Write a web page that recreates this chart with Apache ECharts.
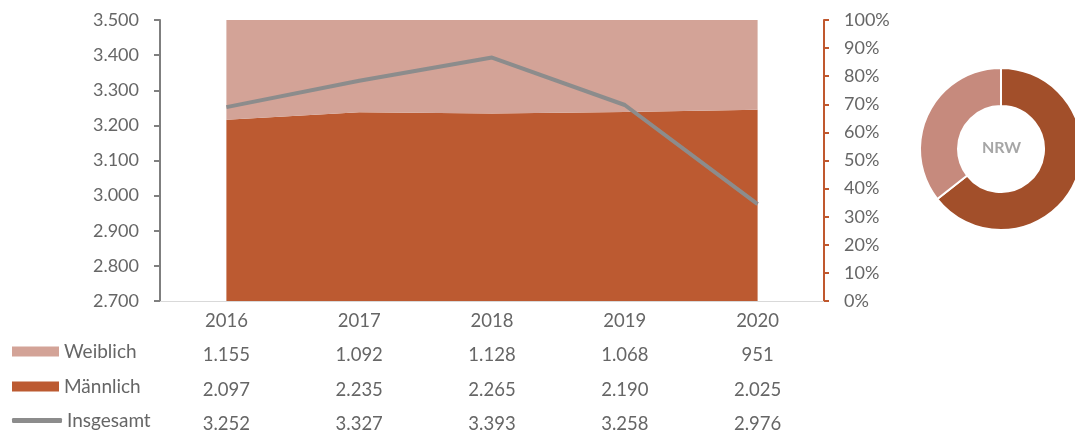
<!DOCTYPE html>
<html>
<head>
<meta charset="utf-8">
<style>
  html, body { margin: 0; padding: 0; background: #fff; }
  #chart { width: 1075px; height: 434px; }
</style>
<script src="https://cdn.jsdelivr.net/npm/echarts@6/dist/echarts.min.js"></script>
</head>
<body>
<div id="chart"></div>
<script>
// Students per year, split by gender
const years = ['2016', '2017', '2018', '2019', '2020'];
const weiblich = [1155, 1092, 1128, 1068, 951];
const maennlich = [2097, 2235, 2265, 2190, 2025];
const insgesamt = [3252, 3327, 3393, 3258, 2976];

// NRW gender shares (percent) for the ring
const nrwNames = ['Männlich (NRW)', 'Weiblich (NRW)'];
const nrwShares = [64.4, 35.6];

// Axis ranges
const leftMin = 2700, leftMax = 3500, leftStep = 100;
const rightMin = 0, rightMax = 1, rightStep = 0.1;

const FONT = 'Lato, "Open Sans", sans-serif';
const TXT = '#666666';
const C_W = '#d3a397';
const C_M = '#bc5a31';
const C_LINE = '#8c8c8c';
const C_AXIS_R = '#c0582e';

const fmtDE = n => String(n).replace(/\B(?=(\d{3})+(?!\d))/g, '.');

const shareM = maennlich.map((m, i) => m / insgesamt[i]);
const shareW = weiblich.map((w, i) => w / insgesamt[i]);

// Category axes: the main one plus three table rows under it
function tableAxis(offset, values) {
  return {
    type: 'category', data: years, position: 'bottom', offset: offset,
    axisLine: { show: false }, axisTick: { show: false }, splitLine: { show: false },
    axisLabel: {
      margin: 11, color: TXT, fontSize: 18.5, fontFamily: FONT,
      formatter: (v, i) => fmtDE(values[i])
    }
  };
}

function rowLegend(name, top, icon, h, w) {
  return {
    data: [name], left: 12, top: top, orient: 'horizontal',
    icon: icon, itemWidth: w, itemHeight: h, itemGap: 0,
    selectedMode: false, padding: 0,
    textStyle: { color: TXT, fontSize: 19, fontFamily: FONT, padding: [0, 0, 0, 0] }
  };
}

const chart = echarts.init(document.getElementById('chart'), null, { renderer: 'canvas' });
chart.setOption({
  animation: false,
  backgroundColor: '#fff',
  grid: { left: 160, right: 251, top: 20, bottom: 132, containLabel: false },
  legend: [
    rowLegend('Weiblich', 342, 'rect', 10, 47),
    rowLegend('Männlich', 377, 'rect', 10, 47),
    rowLegend('Insgesamt', 411, 'roundRect', 5, 50)
  ],
  xAxis: [
    {
      type: 'category', data: years, boundaryGap: true,
      axisLine: { show: true, lineStyle: { color: '#d9d9d9', width: 1 } },
      axisTick: { show: false },
      axisLabel: { margin: 11, color: TXT, fontSize: 18.5, fontFamily: FONT }
    },
    tableAxis(34, weiblich),
    tableAxis(69, maennlich),
    tableAxis(103, insgesamt)
  ],
  yAxis: [
    {
      type: 'value', min: leftMin, max: leftMax, interval: leftStep, position: 'left',
      splitLine: { show: false },
      axisLine: { show: true, lineStyle: { color: '#7f7f7f', width: 2 } },
      axisTick: { show: true, length: 6, lineStyle: { color: '#7f7f7f', width: 2 } },
      axisLabel: { margin: 21, color: TXT, fontSize: 18, fontFamily: FONT, formatter: v => fmtDE(v) }
    },
    {
      type: 'value', min: rightMin, max: rightMax, interval: rightStep, position: 'right',
      splitLine: { show: false },
      axisLine: { show: true, lineStyle: { color: C_AXIS_R, width: 2 } },
      axisTick: { show: true, length: 5, lineStyle: { color: C_AXIS_R, width: 2 } },
      axisLabel: { margin: 20, color: TXT, fontSize: 18, fontFamily: FONT, formatter: v => Math.round(v * 100) + '%' }
    }
  ],
  series: [
    {
      name: 'Männlich', type: 'line', xAxisIndex: 0, yAxisIndex: 1, stack: 'anteil',
      data: shareM, symbol: 'none', color: C_M,
      lineStyle: { width: 0 }, areaStyle: { color: C_M, opacity: 1 }, z: 2
    },
    {
      name: 'Weiblich', type: 'line', xAxisIndex: 0, yAxisIndex: 1, stack: 'anteil',
      data: shareW, symbol: 'none', color: C_W,
      lineStyle: { width: 0 }, areaStyle: { color: C_W, opacity: 1 }, z: 2
    },
    {
      name: 'Insgesamt', type: 'line', xAxisIndex: 0, yAxisIndex: 0,
      data: insgesamt, symbol: 'none', color: C_LINE,
      lineStyle: { color: C_LINE, width: 4 }, z: 5
    },
    {
      name: 'NRW', type: 'pie', center: [1001, 149], radius: [43, 81],
      startAngle: 90, clockwise: true, silent: true,
      label: { show: false }, labelLine: { show: false },
      itemStyle: { borderColor: '#fff', borderWidth: 2 },
      data: [
        { name: nrwNames[0], value: nrwShares[0], itemStyle: { color: '#a24f2a' } },
        { name: nrwNames[1], value: nrwShares[1], itemStyle: { color: '#c68a7d' } }
      ]
    }
  ],
  graphic: [
    {
      type: 'text', left: 1001 - 19, top: 140,
      style: { text: 'NRW', fill: '#a6a6a6', font: 'bold 16px ' + FONT, textAlign: 'left' }
    }
  ]
});
</script>
</body>
</html>
